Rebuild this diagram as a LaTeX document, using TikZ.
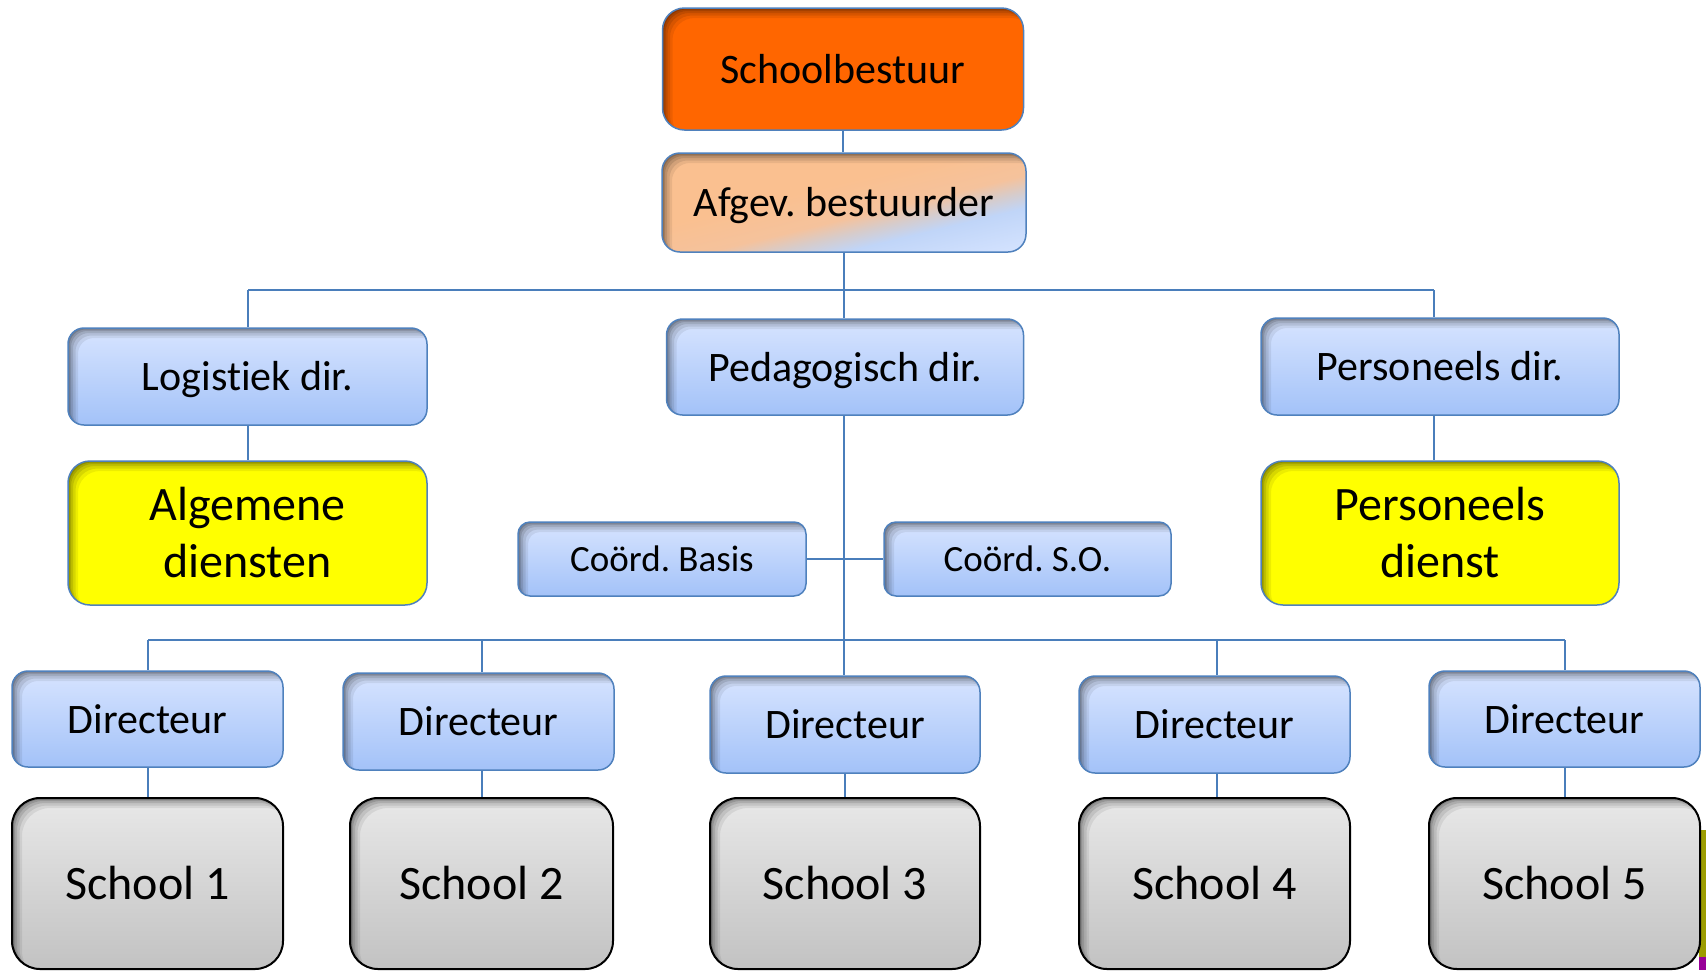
\documentclass[tikz,border=0pt]{standalone}
\usepackage{fontspec}
\setmainfont{Carlito}[Ligatures=NoCommon, RawFeature={-liga;-clig;-dlig}]
\frenchspacing
\definecolor{bTop}{HTML}{D7E4FF}
\definecolor{bBot}{HTML}{A3C2F8}
\definecolor{bEdge}{HTML}{4F81BD}
\definecolor{lineC}{HTML}{4A7EBB}
\definecolor{orangeC}{HTML}{FF6600}
\definecolor{yellowC}{HTML}{FFFF00}
\definecolor{gTop}{HTML}{E8E8E8}
\definecolor{gBot}{HTML}{C2C2C2}
\definecolor{aBlueA}{HTML}{E0EAFF}
\definecolor{aBlueB}{HTML}{D6E4FF}
\definecolor{aBlueC}{HTML}{C0D5F8}
\definecolor{aMix}{HTML}{D6CCCC}
\definecolor{aOrA}{HTML}{F5C29C}
\definecolor{aOrB}{HTML}{FAC090}
\definecolor{oliveC}{HTML}{9C9C00}
\definecolor{purpleC}{HTML}{990099}
\pgfdeclareverticalshading{afgevsh}{100bp}{color(0bp)=(aBlueA); color(27bp)=(aBlueB); color(38bp)=(aBlueC); color(42bp)=(aMix); color(46bp)=(aOrA); color(55bp)=(aOrB); color(100bp)=(aOrB)}
\newcommand\myinnershadow[1]{%
  \foreach \d/\o in {1.5/0.15,3/0.13,5/0.11,7.5/0.09,10/0.07}{%
    \fill[black,opacity=\o,even odd rule]
      ([shift={(-30pt,30pt)}]path picture bounding box.north west) rectangle ([shift={(30pt,-30pt)}]path picture bounding box.south east)
      [rounded corners=#1] ([shift={(\d pt,-\d pt)}]path picture bounding box.north west) rectangle ([shift={(\d pt,-\d pt)}]path picture bounding box.south east);
  }}
\tikzset{
  boxbase/.style={draw=bEdge, line width=1.5pt, inner sep=0pt, align=center, font=\fontsize{42}{50}\selectfont, text height=28pt, text depth=0pt},
  bluebox/.style={boxbase, rounded corners=16pt, top color=bTop, bottom color=bBot, path picture={\myinnershadow{16pt}}},
  coordbox/.style={boxbase, rounded corners=12pt, top color=bTop, bottom color=bBot, font=\fontsize{37}{44}\selectfont, text height=24pt, path picture={\myinnershadow{12pt}}},
  topbox/.style={boxbase, rounded corners=22pt, fill=orangeC, path picture={\myinnershadow{22pt}}},
  afgevbox/.style={boxbase, rounded corners=18pt, path picture={%
      \begin{scope}[transform canvas={rotate around={13.6:(path picture bounding box.center)}}]
        \shade[shading=afgevsh] ([shift={(-260pt,-100pt)}]path picture bounding box.center) rectangle ([shift={(260pt,100pt)}]path picture bounding box.center);
      \end{scope}
      \myinnershadow{18pt}}},
  yellowbox/.style={draw=bEdge, line width=1.5pt, inner sep=0pt, align=center, rounded corners=22pt, fill=yellowC, font=\fontsize{48}{57}\selectfont, path picture={\myinnershadow{22pt}}},
  schoolbox/.style={draw=black, line width=2pt, inner sep=0pt, align=center, rounded corners=28pt, top color=gTop, bottom color=gBot, font=\fontsize{48}{57}\selectfont, text height=31pt, text depth=0pt, path picture={\myinnershadow{28pt}}},
  conn/.style={draw=lineC, line width=1.5pt}
}
\begin{document}
\begin{tikzpicture}[x=1pt,y=-1pt]
\fill[white] (0,0) rectangle (1706,970);
\useasboundingbox (0,0) rectangle (1706,970);
% stray shape at right edge
\fill[oliveC] (1699,830) rectangle (1706,957);
\fill[purpleC] (1699,957) rectangle (1706,970);
% coordinates of bars
\coordinate (tl) at (248,290);
\coordinate (tr) at (1434,290);
\coordinate (bl) at (148,640);
\coordinate (b2) at (482,640);
\coordinate (b4) at (1217,640);
\coordinate (br) at (1565,640);
% nodes
\node[topbox, minimum width=361pt, minimum height=122pt] (sb) at (843,69) {Schoolbestuur};
\node[afgevbox, minimum width=364pt, minimum height=99pt] (af) at (844,202.5) {Afgev. bestuurder};
\node[bluebox, minimum width=359pt, minimum height=97pt] (logi) at (247.5,376.5) {Logist\kern0pt iek dir.};
\node[bluebox, minimum width=357pt, minimum height=96pt] (ped) at (845,367) {Pedagogisch dir.};
\node[bluebox, minimum width=358pt, minimum height=97pt] (pdir) at (1440,366.5) {Personeels dir.};
\node[yellowbox, minimum width=359pt, minimum height=144pt] (alg) at (247.5,533) {Algemene\\diensten};
\node[yellowbox, minimum width=358pt, minimum height=144pt] (pdienst) at (1440,533) {Personeels\\dienst};
\node[coordbox, minimum width=288pt, minimum height=74pt] (cb) at (662,559) {Coörd. Basis};
\node[coordbox, minimum width=287pt, minimum height=74pt] (cso) at (1027.5,559) {Coörd. S.O.};
\node[bluebox, minimum width=271pt, minimum height=96pt] (d1) at (147.5,719) {Directeur};
\node[bluebox, minimum width=271pt, minimum height=97pt] (d2) at (478.5,721.5) {Directeur};
\node[bluebox, minimum width=270pt, minimum height=97pt] (d3) at (845,724.5) {Directeur};
\node[bluebox, minimum width=271pt, minimum height=97pt] (d4) at (1214.5,724.5) {Directeur};
\node[bluebox, minimum width=271pt, minimum height=96pt] (d5) at (1564.5,719) {Directeur};
\node[schoolbox, minimum width=271pt, minimum height=171pt] (s1) at (147.5,883.5) {School 1};
\node[schoolbox, minimum width=263pt, minimum height=171pt] (s2) at (481.5,883.5) {School 2};
\node[schoolbox, minimum width=270pt, minimum height=171pt] (s3) at (845,883.5) {School 3};
\node[schoolbox, minimum width=271pt, minimum height=171pt] (s4) at (1214.5,883.5) {School 4};
\node[schoolbox, minimum width=271pt, minimum height=171pt] (s5) at (1564.5,883.5) {School 5};
% connectors
\draw[conn] (sb.south) -- (sb.south |- af.north);
\draw[conn] (tl) -- (tr);
\draw[conn] (af.south) -- (af.south |- ped.north);
\draw[conn] (tl) -- (tl |- logi.north);
\draw[conn] (tr) -- (tr |- pdir.north);
\draw[conn] (tl |- logi.south) -- (tl |- alg.north);
\draw[conn] (tr |- pdir.south) -- (tr |- pdienst.north);
\draw[conn] (af.south |- ped.south) -- (af.south |- d3.north);
\draw[conn] (cb.east) -- (cso.west);
\draw[conn] (bl) -- (br);
\draw[conn] (bl) -- (bl |- d1.north);
\draw[conn] (b2) -- (b2 |- d2.north);
\draw[conn] (b4) -- (b4 |- d4.north);
\draw[conn] (br) -- (br |- d5.north);
\draw[conn] (bl |- d1.south) -- (bl |- s1.north);
\draw[conn] (b2 |- d2.south) -- (b2 |- s2.north);
\draw[conn] (d3.south) -- (d3.south |- s3.north);
\draw[conn] (b4 |- d4.south) -- (b4 |- s4.north);
\draw[conn] (br |- d5.south) -- (br |- s5.north);
\end{tikzpicture}
\end{document}
